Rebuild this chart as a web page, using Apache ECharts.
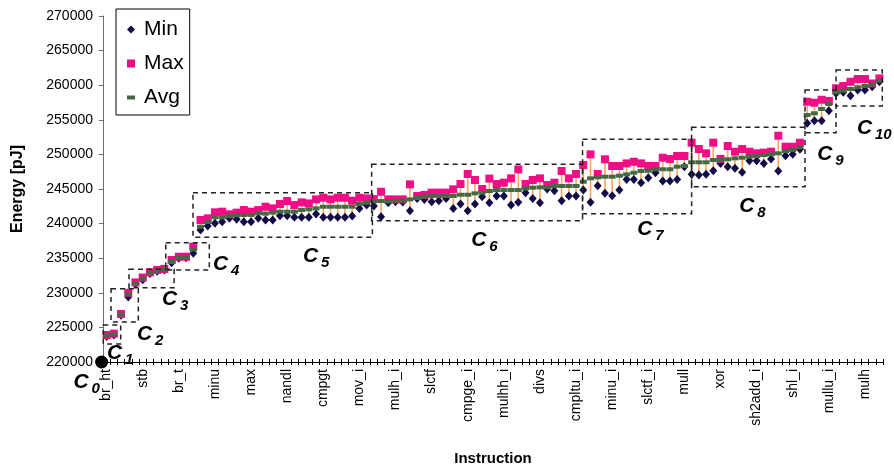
<!DOCTYPE html>
<html><head><meta charset="utf-8">
<script src="https://cdn.jsdelivr.net/npm/echarts@6/dist/echarts.min.js"></script>
<style>html,body{margin:0;padding:0;background:#fff}#c{width:894px;height:469px}</style>
</head><body><div id="c"></div>
<script>
// tick labels shown every 5th instruction
const tickLabels = ['br_ht','stb','br_t','minu','max','nandl','cmpgt','mov_i','mulh_i','slctf','cmpge_i',
  'mulhh_i','divs','cmpltu_i','minu_i','slctf_i','mull','xor','sh2add_i','shl_i','mullu_i','mulh'];

const minVals = [
  223700,223900,226750,229400,231300,231900,232800,233100,233300,234350,235000,235050,235700,
  239070,239650,240040,240270,240760,240620,240270,240270,240760,240520,240520,241140,241140,240910,
  240910,240910,241390,240910,240910,240910,240910,241100,242200,242680,
  242540,241000,243020,243160,243120,241860,243640,243500,243160,243310,243640,242200,242830,241860,
  242830,243890,243020,243990,243990,242680,243080,244470,243640,243020,245000,244750,243310,243990,
  243990,244850,
  243080,245480,244370,244030,244850,246390,246390,245910,246630,247350,246150,246150,246390,248200,
  247120,247020,247120,247640,248700,248220,247990,247410,249090,249090,248700,249330,247600,249810,
  250010,250750,
  254490,254870,254870,256310,
  258830,258970,258480,259300,259300,259780,260500
];
const maxVals = [
  223900,224100,226950,230000,231500,232200,232960,233300,233450,234740,235210,235210,236660,
  240520,240760,241630,241720,241340,241580,241960,241720,241960,242440,242200,242830,243260,242680,
  243070,242920,243500,243740,243500,243740,243740,243310,243740,243640,
  243550,244600,243500,243500,243500,245670,243990,244130,244470,244470,244470,244950,245720,247170,
  246300,245000,246500,245720,245910,246540,247830,245720,246300,246540,245580,245910,247600,246540,
  247170,248470,
  250010,247170,249290,248320,248320,248700,248940,248700,248320,248320,249520,249330,249770,249770,
  251690,250780,250160,251690,249350,251210,250390,250780,250390,250160,250250,250390,252700,251110,
  251110,251690,
  257610,257470,257900,257730,
  259550,259880,260500,260890,260890,260250,260980
];
const avgVals = [
  223800,224000,226880,229800,231400,232050,232900,233200,233400,234600,235100,235150,236280,
  239550,240230,240910,240910,241100,241200,241250,241250,241490,241440,241580,241720,241720,241720,
  241960,242060,242200,242440,242440,242440,242440,242440,242830,243020,
  243220,243260,243260,243300,243300,243500,243840,243890,243990,243990,243990,243990,244170,244170,
  244370,244470,244710,244850,244850,244850,244850,245100,245190,245240,245240,245430,245430,245430,
  245430,246050,
  246540,246690,246780,246780,246920,247120,247350,247600,247640,247850,247850,247850,248220,248320,
  248860,248860,248860,249190,249250,249290,249430,249520,249670,249770,249910,250010,250160,250490,
  250640,251020,
  255690,255940,256560,257280,
  258970,259200,259450,259690,259880,260100,260650
];

// cluster annotations: name, box from/to (category units), box low/high (pJ), label at (category units, pJ)
const clusterNames = ['0','1','2','3','4','5','6','7','8','9','10'];
const clusterFrom  = [null,-0.46,0.61,3.1,8.19,11.96,36.7,65.9,81.0,96.7,101.0];
const clusterTo    = [null,1.95,4.39,9.34,14.22,36.8,65.9,81.0,96.7,101.0,107.4];
const clusterLow   = [null,222600,225780,230740,233290,238020,240420,241430,245330,253130,256990];
const clusterHigh  = [null,225350,230590,233400,237240,244460,248570,252180,253910,259300,262190];
const labelPos     = [-4.6,0.06,4.2,7.67,14.74,27.2,50.5,73.46,87.6,98.4,103.9];
const labelVal     = [217110,221300,224050,229100,234160,235320,237630,239220,242540,250060,253810];
const originPoint  = [0, 220000];

const categories = minVals.map((_, i) => (i % 5 === 0 ? tickLabels[i / 5] : '#' + i));

const FONT = 'Liberation Sans, Arial, sans-serif';
const chart = echarts.init(document.getElementById('c'), null, {renderer: 'canvas'});

chart.setOption({
  animation: false,
  backgroundColor: '#fff',
  textStyle: {fontFamily: FONT},
  grid: {left: 103, right: 11, top: 16, bottom: 107, containLabel: false, outerBoundsMode: 'none'},
  legend: {
    orient: 'vertical', left: 116, top: 9,
    padding: [10, 6, 7, 11], itemGap: 13,
    itemWidth: 8, itemHeight: 8,
    borderColor: '#000', borderWidth: 1, backgroundColor: '#fff',
    textStyle: {fontSize: 21, lineHeight: 21, color: '#000', fontFamily: FONT, padding: [0,0,0,4]},
    data: [
      {name: 'Min', icon: 'path://M5,0L10,5L5,10L0,5z'},
      {name: 'Max', icon: 'path://M0,0h10v10h-10z'},
      {name: 'Avg', icon: 'path://M0,0h10v5h-10z'}
    ]
  },
  xAxis: [{
    type: 'category', data: categories, boundaryGap: true,
    name: 'Instruction', nameLocation: 'middle', nameGap: 89,
    nameTextStyle: {fontSize: 15, fontWeight: 'bold', color: '#000', fontFamily: FONT},
    axisLine: {lineStyle: {color: '#000', width: 1}},
    axisTick: {show: true, interval: 0, length: 3, inside: false, lineStyle: {color: '#000'}},
    axisLabel: {
      interval: 4, rotate: 90, fontSize: 14, color: '#000', margin: 7, fontFamily: FONT,
      formatter: (v) => (v.charAt(0) === '#' ? '' : v)
    },
    splitLine: {show: false}
  }, {
    type: 'category', data: categories, boundaryGap: true, position: 'bottom',
    axisLine: {show: false},
    axisTick: {show: true, interval: 0, length: 3, inside: true, lineStyle: {color: '#000'}},
    axisLabel: {show: false}, splitLine: {show: false}
  }],
  yAxis: {
    type: 'value', min: 220000, max: 270000, interval: 5000,
    name: 'Energy [pJ]', nameLocation: 'middle', nameGap: 77, nameRotate: 90,
    nameTextStyle: {fontSize: 16, fontWeight: 'bold', color: '#000', fontFamily: FONT},
    axisLine: {show: true, lineStyle: {color: '#6e6e6e', width: 1}},
    axisTick: {show: true, length: 4, lineStyle: {color: '#6e6e6e'}},
    axisLabel: {fontSize: 14, color: '#000', margin: 10, fontFamily: FONT,
      formatter: (v) => String(v)},
    splitLine: {show: false}
  },
  series: [
    {
      type: 'custom', name: 'range', silent: true, z: 2,
      data: minVals.map((v, i) => [i, v, maxVals[i]]),
      encode: {x: 0, y: [1, 2]},
      renderItem: (params, api) => {
        const a = api.coord([api.value(0), api.value(1)]);
        const b = api.coord([api.value(0), api.value(2)]);
        return {type: 'line', shape: {x1: a[0], y1: a[1], x2: b[0], y2: b[1]},
                style: {stroke: '#ffa45c', lineWidth: 1.6}};
      }
    },
    {
      type: 'scatter', name: 'Min', z: 3, silent: true,
      symbol: 'diamond', symbolSize: [8, 9],
      itemStyle: {color: '#110c45', opacity: 1},
      data: minVals.map((v, i) => [i, v])
    },
    {
      type: 'scatter', name: 'Max', z: 4, silent: true,
      symbol: 'rect', symbolSize: 8,
      itemStyle: {color: '#f20c86', opacity: 1},
      data: maxVals.map((v, i) => [i, v])
    },
    {
      type: 'scatter', name: 'Avg', z: 5, silent: true,
      symbol: 'rect', symbolSize: [7, 4],
      itemStyle: {color: '#446a43', opacity: 1},
      data: avgVals.map((v, i) => [i, v])
    },
    {
      type: 'custom', name: 'clusters', silent: true, z: 6, clip: false,
      data: clusterNames.map((n, i) => [0, labelVal[i]]),
      encode: {x: 0, y: 1},
      renderItem: (params, api) => {
        const k = params.dataIndex;
        const band = api.size([1, 0])[0];
        const x0 = api.coord([0, 230000])[0];
        const px = (f) => x0 + f * band;
        const py = (v) => api.coord([0, v])[1];
        const children = [];
        if (clusterFrom[k] !== null) {
          const l = px(clusterFrom[k]), r = px(clusterTo[k]);
          const t = py(clusterHigh[k]), b = py(clusterLow[k]);
          children.push({type: 'rect', shape: {x: l, y: t, width: r - l, height: b - t},
            style: {fill: 'none', stroke: '#222', lineWidth: 1.5, lineDash: [5, 4]}});
        }
        const lx = px(labelPos[k]), ly = py(labelVal[k]);
        children.push({type: 'text', x: lx, y: ly, style: {
          text: 'C', fontSize: 21, fontWeight: 'bold', fontStyle: 'italic', fontFamily: FONT,
          fill: '#000', align: 'left', verticalAlign: 'middle'}});
        children.push({type: 'text', x: lx + 18, y: ly + 7, style: {
          text: clusterNames[k], fontSize: 15, fontWeight: 'bold', fontStyle: 'italic', fontFamily: FONT,
          fill: '#000', align: 'left', verticalAlign: 'middle'}});
        return {type: 'group', children};
      }
    },
    {
      type: 'scatter', name: 'C0', z: 7, silent: true,
      symbol: 'circle', symbolSize: 13, symbolOffset: [-5, 0],
      itemStyle: {color: '#000', opacity: 1},
      data: [originPoint]
    }
  ]
});
</script>
</body></html>
